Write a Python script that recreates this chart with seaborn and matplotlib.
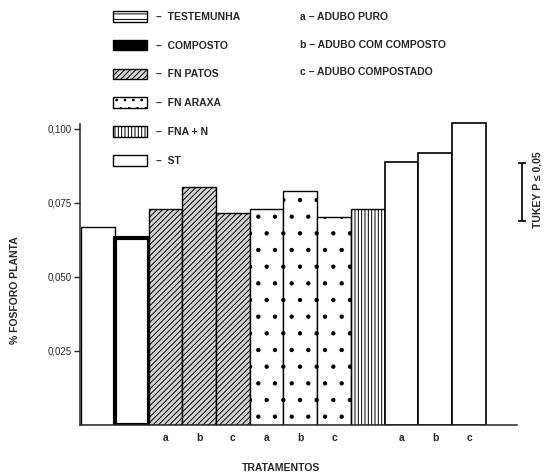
import numpy as np
import pandas as pd
import matplotlib
matplotlib.use("Agg")
import matplotlib.pyplot as plt
import seaborn as sns
from matplotlib.patches import Patch

# data
bar_ids = ["TEST", "COMP", "PAT_a", "PAT_b", "PAT_c", "ARX_a", "ARX_b", "ARX_c",
           "FNA", "ST_a", "ST_b", "ST_c"]
groups = ["TESTEMUNHA", "COMPOSTO", "FN PATOS", "FN PATOS", "FN PATOS",
          "FN ARAXA", "FN ARAXA", "FN ARAXA", "FNA + N", "ST", "ST", "ST"]
fosforo = [0.0667, 0.0630, 0.0728, 0.0804, 0.0716, 0.0730, 0.0790, 0.0703,
           0.0728, 0.0889, 0.0919, 0.1020]
sub_labels = ["", "", "a", "b", "c", "a", "b", "c", "", "a", "b", "c"]
y_ticks = [0.025, 0.050, 0.075, 0.100]
y_tick_labels = ["0,025", "0,050", "0,075", "0,100"]
tukey = 0.0195
tukey_center = 0.0786
legend_groups = ["TESTEMUNHA", "COMPOSTO", "FN PATOS", "FN ARAXA", "FNA + N", "ST"]
legend_letters = ["a – ADUBO PURO", "b – ADUBO COM COMPOSTO", "c – ADUBO COMPOSTADO"]

# texture per treatment
styles = {
    "TESTEMUNHA": dict(facecolor="white", hatch=None, lw=1.0),
    "COMPOSTO": dict(facecolor="white", hatch=None, lw=3.0),
    "FN PATOS": dict(facecolor="#d4d4d4", hatch="//////", lw=1.0),
    "FN ARAXA": dict(facecolor="white", hatch=".", lw=1.0),
    "FNA + N": dict(facecolor="white", hatch="|||||", lw=1.0),
    "ST": dict(facecolor="white", hatch=None, lw=1.2),
}
legend_styles = {
    "TESTEMUNHA": dict(facecolor="white", hatch="---"),
    "COMPOSTO": dict(facecolor="black", hatch=None),
    "FN PATOS": dict(facecolor="#d4d4d4", hatch="//////"),
    "FN ARAXA": dict(facecolor="white", hatch=".."),
    "FNA + N": dict(facecolor="white", hatch="|||||"),
    "ST": dict(facecolor="white", hatch=None),
}

sns.set_style("ticks")
plt.rcParams["font.family"] = ["Liberation Sans", "DejaVu Sans"]
plt.rcParams["hatch.linewidth"] = 0.7

df = pd.DataFrame({"bar": bar_ids, "group": groups, "fosforo": fosforo})

fig = plt.figure(figsize=(5.44, 4.72), dpi=100)
ax = fig.add_axes([80 / 544, 1 - 424.7 / 472, 437 / 544, 310.8 / 472])

sns.barplot(data=df, x="bar", y="fosforo", order=bar_ids, width=1.0,
            color="white", saturation=1, edgecolor="black", ax=ax)

for patch, g in zip(ax.patches, groups):
    st = styles[g]
    patch.set_facecolor(st["facecolor"])
    patch.set_linewidth(st["lw"])
    if st["hatch"]:
        patch.set_hatch(st["hatch"])

ax.set_xlim(-0.53, 12.42)
ax.set_ylim(0, 0.105)
ax.set_yticks(y_ticks)
ax.set_yticklabels(y_tick_labels, fontsize=7)
ax.set_xticks(range(len(bar_ids)))
ax.set_xticklabels(sub_labels, fontsize=7.5, fontweight="bold")
ax.tick_params(axis="x", length=0, pad=6)
ax.tick_params(axis="y", length=4, width=1, pad=2)
sns.despine(ax=ax)
ax.spines["left"].set_bounds(0, 0.1015)
ax.spines["left"].set_linewidth(1.1)
ax.spines["bottom"].set_linewidth(1.1)

ax.set_xlabel("TRATAMENTOS", fontsize=7.5, fontweight="bold")
ax.xaxis.set_label_coords((281 - 80) / 437, -(463 - 424.7) / 310.8)
ax.set_ylabel("% FOSFORO PLANTA", fontsize=7.5, fontweight="bold")
ax.yaxis.set_label_coords(-60 / 437, (424.7 - 290) / 310.8)

# Tukey bar
ax.errorbar([12.56], [tukey_center], yerr=[tukey / 2], fmt="none", ecolor="black",
            elinewidth=1.2, capsize=3, capthick=1.2, clip_on=False)
fig.text(538 / 544, 1 - 190 / 472, "TUKEY P ≤ 0,05", rotation=90, ha="center",
         va="center", fontsize=7.5, fontweight="bold")

# legends
handles = [Patch(edgecolor="black", linewidth=1, **legend_styles[g]) for g in legend_groups]
fig.legend(handles, ["–  " + g for g in legend_groups], loc="upper left",
           bbox_to_anchor=(113 / 544, 1 - 11 / 472), frameon=False,
           prop=dict(size=7.5, weight="bold"), handlelength=3.3, handleheight=1.2,
           handletextpad=0.8, labelspacing=1.72, borderpad=0, borderaxespad=0)

for i, txt in enumerate(legend_letters):
    fig.text(300 / 544, 1 - (17 + 27.5 * i) / 472, txt, ha="left", va="center",
             fontsize=7.5, fontweight="bold")

fig.savefig("out.png", dpi=100)
